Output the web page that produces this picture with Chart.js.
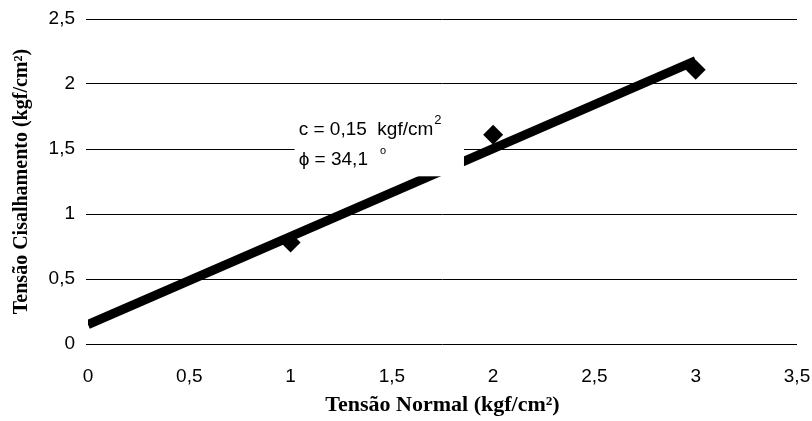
<!DOCTYPE html>
<html>
<head>
<meta charset="utf-8">
<script src="https://cdn.jsdelivr.net/npm/chart.js@4"></script>
<style>
  html, body { margin: 0; padding: 0; background: #fff; }
  #wrap { width: 812px; height: 421px; }
</style>
</head>
<body>
<div id="wrap"><canvas id="c"></canvas></div>
<script>
// Ensaio de cisalhamento direto: pontos medidos
const normalStress = [1, 2, 3];
const shearStress = [0.78, 1.61, 2.11];

// Envoltória de ruptura: c = 0,15 kgf/cm², phi = 34,1°
const envelopeX = [0, 3];
const envelopeY = [0.15, 2.18];

const xTicks = [0, 0.5, 1, 1.5, 2, 2.5, 3, 3.5];
const yTicks = [0, 0.5, 1, 1.5, 2, 2.5];

const cohesionLabel = 'c = 0,15  kgf/cm';
const frictionLabel = 'ϕ = 34,1';

// caixa branca da legenda da envoltória, em unidades dos eixos
const labelBox = { xMin: 1.02, xMax: 1.856, yMin: 1.29, yMax: 1.9 };

const fmt = v => String(v).replace('.', ',');
const SANS = '"Liberation Sans", Arial, sans-serif';
const SERIF = '"Liberation Serif", "Times New Roman", serif';

const labelPlugin = {
  id: 'envelopeLabels',
  afterDatasetsDraw(chart) {
    const ctx = chart.ctx;
    const xs = chart.scales.x, ys = chart.scales.y;
    ctx.save();
    const bx0 = xs.getPixelForValue(labelBox.xMin);
    const bx1 = xs.getPixelForValue(labelBox.xMax);
    const by0 = ys.getPixelForValue(labelBox.yMax);
    const by1 = ys.getPixelForValue(labelBox.yMin);
    ctx.fillStyle = '#fff';
    ctx.fillRect(bx0, by0, bx1 - bx0, by1 - by0);

    ctx.fillStyle = '#000';
    ctx.textBaseline = 'alphabetic';
    ctx.textAlign = 'left';

    ctx.font = '19px ' + SANS;
    const x0 = xs.getPixelForValue(1.04);
    const y1 = ys.getPixelForValue(1.61);
    ctx.fillText(cohesionLabel, x0, y1);
    const w = ctx.measureText(cohesionLabel).width;
    ctx.font = '13px ' + SANS;
    ctx.fillText('2', x0 + w + 1, y1 - 11);

    ctx.font = '19px ' + SANS;
    const y2 = ys.getPixelForValue(1.38);
    ctx.fillText(frictionLabel, x0, y2);
    const w2 = ctx.measureText(frictionLabel).width;
    ctx.font = '11px ' + SANS;
    ctx.fillText('o', x0 + w2 + 12, y2 - 11);
    ctx.restore();
  }
};

new Chart(document.getElementById('c'), {
  type: 'scatter',
  data: {
    datasets: [
      {
        type: 'line',
        data: envelopeX.map((x, i) => ({ x, y: envelopeY[i] })),
        borderColor: '#000',
        borderWidth: 9,
        pointRadius: 0,
        borderCapStyle: 'butt',
        order: 1
      },
      {
        data: normalStress.map((x, i) => ({ x, y: shearStress[i] })),
        pointStyle: 'rectRot',
        pointRadius: 10,
        pointHoverRadius: 10,
        backgroundColor: '#000',
        borderColor: '#000',
        borderWidth: 0,
        order: 0
      }
    ]
  },
  options: {
    responsive: true,
    maintainAspectRatio: false,
    animation: false,
    layout: { padding: { left: 0, right: 15, top: 19, bottom: 0 } },
    plugins: { legend: { display: false }, tooltip: { enabled: false } },
    scales: {
      x: {
        type: 'linear',
        min: 0, max: 3.5,
        afterBuildTicks: s => { s.ticks = xTicks.map(v => ({ value: v })); },
        afterFit: s => { s.height = 77; s.paddingLeft = 0; s.paddingRight = 0; },
        grid: { display: false, drawTicks: false },
        border: { display: false },
        ticks: {
          color: '#000',
          padding: 21,
          maxRotation: 0,
          font: { family: SANS, size: 19 },
          callback: v => fmt(v)
        },
        title: {
          display: true,
          text: 'Tensão Normal (kgf/cm²)',
          color: '#000',
          padding: { top: 2, bottom: 2 },
          font: { family: SERIF, size: 22, weight: 'bold' }
        }
      },
      y: {
        min: 0, max: 2.5,
        afterBuildTicks: s => { s.ticks = yTicks.map(v => ({ value: v })); },
        afterFit: s => { s.width = 88; s.paddingTop = 0; s.paddingBottom = 0; },
        grid: { color: '#000', lineWidth: 1, drawTicks: true, tickLength: 2 },
        border: { display: false },
        ticks: {
          color: '#000',
          padding: 11,
          font: { family: SANS, size: 19 },
          callback: v => fmt(v)
        },
        title: {
          display: true,
          text: 'Tensão Cisalhamento (kgf/cm²)',
          color: '#000',
          padding: { top: 10, bottom: 0 },
          font: { family: SERIF, size: 20, weight: 'bold' }
        }
      }
    }
  },
  plugins: [labelPlugin]
});
</script>
</body>
</html>
